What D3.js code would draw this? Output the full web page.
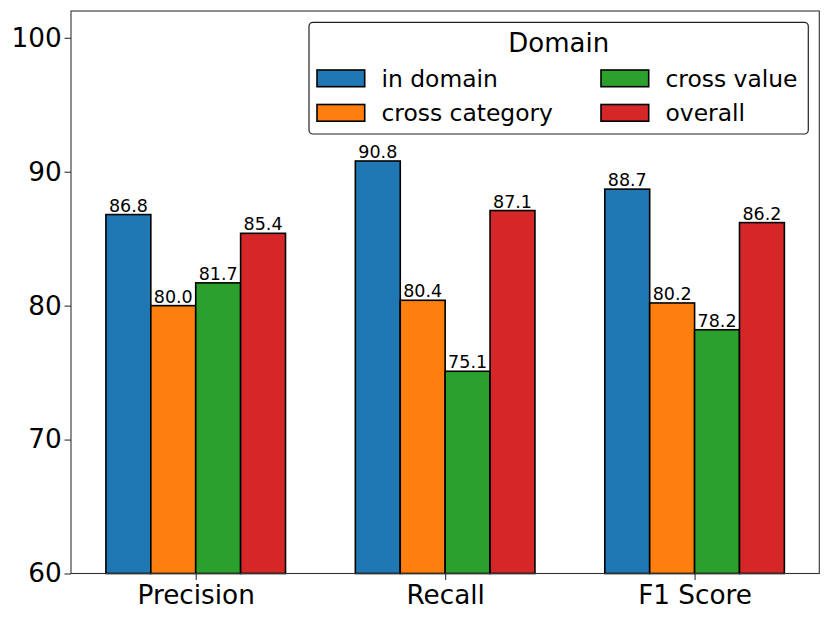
<!DOCTYPE html>
<html>
<head>
<meta charset="utf-8">
<script src="https://cdn.jsdelivr.net/npm/d3@7"></script>
<style>
  body { margin: 0; background: #fff; }
  svg { display: block; font-family: "DejaVu Sans", sans-serif; }
</style>
</head>
<body>
<svg id="chart" width="830" height="620"></svg>
<script>
const categories = ["Precision", "Recall", "F1 Score"];
const seriesNames = ["in domain", "cross category", "cross value", "overall"];
const inDomain = [86.8, 90.8, 88.7];
const crossCategory = [80.0, 80.4, 80.2];
const crossValue = [81.7, 75.1, 78.2];
const overall = [85.4, 87.1, 86.2];
const yTicks = [60, 70, 80, 90, 100];
const colors = ["#1f77b4", "#ff7f0e", "#2ca02c", "#d62728"];
const legendTitle = "Domain";

const seriesValues = [inDomain, crossCategory, crossValue, overall];

const svg = d3.select("#chart");
const L = 71, R = 819.3, T = 11, B = 573.5;

const x = d3.scaleLinear().domain([-0.5, 2.5]).range([L, R]);
const y = d3.scaleLinear().domain([60, 102]).range([B, T]);
const barW = 0.18;

// bars
seriesValues.forEach((vals, si) => {
  const off = (si - 1.5) * barW;
  const g = svg.append("g");
  g.selectAll("rect").data(vals).enter().append("rect")
    .attr("x", (d, i) => x(i + off - barW / 2))
    .attr("width", (d, i) => x(i + off + barW / 2) - x(i + off - barW / 2))
    .attr("y", d => y(d))
    .attr("height", d => y(60) - y(d))
    .attr("fill", colors[si])
    .attr("stroke", "#000")
    .attr("stroke-width", 1.6);
  g.selectAll("text").data(vals).enter().append("text")
    .attr("x", (d, i) => x(i + off))
    .attr("y", d => y(d) - 3)
    .attr("text-anchor", "middle")
    .attr("font-size", 17.5)
    .attr("fill", "#000")
    .text(d => d.toFixed(1));
});

// axes
const yAxis = d3.axisLeft(y).tickValues(yTicks).tickSize(6.5).tickPadding(2.8).tickSizeOuter(0);
const gy = svg.append("g").attr("transform", `translate(${L},0)`).call(yAxis);
gy.selectAll("text").attr("font-size", 26.3).attr("font-family", "DejaVu Sans").attr("fill", "#000");
gy.selectAll("line").attr("stroke", "#333").attr("stroke-width", 1.1);
gy.select(".domain").remove();

const xAxis = d3.axisBottom(x).tickValues([0, 1, 2]).tickFormat(i => categories[i]).tickSize(6.5).tickPadding(5.2).tickSizeOuter(0);
const gx = svg.append("g").attr("transform", `translate(0,${B})`).call(xAxis);
gx.selectAll("text").attr("font-size", 26.3).attr("font-family", "DejaVu Sans").attr("fill", "#000");
gx.selectAll("line").attr("stroke", "#333").attr("stroke-width", 1.1);
gx.select(".domain").remove();

// frame
svg.append("rect").attr("x", L).attr("y", T).attr("width", R - L).attr("height", B - T)
  .attr("fill", "none").attr("stroke", "#333").attr("stroke-width", 1.1);

// legend
const lg = svg.append("g");
lg.append("rect").attr("x", 309).attr("y", 22.3).attr("width", 499.3).attr("height", 111.7)
  .attr("rx", 4).attr("fill", "#fff").attr("fill-opacity", 0.8)
  .attr("stroke", "#222").attr("stroke-width", 1.2);
lg.append("text").attr("x", 558.8).attr("y", 51.7).attr("text-anchor", "middle")
  .attr("font-size", 26).text(legendTitle);
const colX = [317, 601];
const rowY = [70, 104.5];
seriesNames.forEach((name, i) => {
  const c = Math.floor(i / 2), r = i % 2;
  lg.append("rect").attr("x", colX[c]).attr("y", rowY[r]).attr("width", 47.7).attr("height", 16.7)
    .attr("fill", colors[i]).attr("stroke", "#000").attr("stroke-width", 1.6);
  lg.append("text").attr("x", colX[c] + 64.5).attr("y", rowY[r] + 16.7)
    .attr("font-size", 23.4).text(name);
});
</script>
</body>
</html>
